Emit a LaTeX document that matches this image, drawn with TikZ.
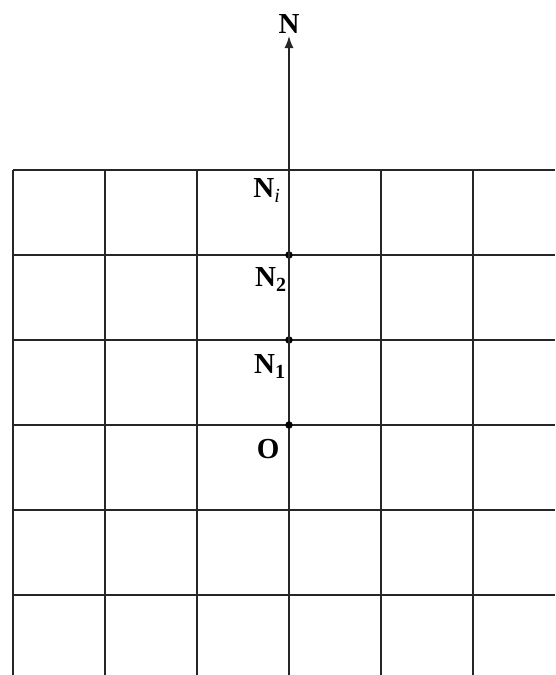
\documentclass[tikz,border=0pt]{standalone}
\usepackage{fontspec}
\setmainfont{Liberation Serif}
\usetikzlibrary{arrows.meta,positioning}

\newcommand{\sbs}[1]{\raisebox{-5pt}{\fontsize{20}{20}\selectfont #1}}

\begin{document}
\begin{tikzpicture}[x=92pt,y=85pt,
  lbl/.style={anchor=base west,inner sep=0pt,font=\fontsize{29}{30}\selectfont\bfseries},
  dot/.style={circle,fill,inner sep=0pt,minimum size=7.5pt},
  gridline/.style={line width=1.3pt,black!85}]
\useasboundingbox (-3.1413,-2.9412) rectangle (2.8913,5);

%grid
\foreach \x in {-3,...,2}
\draw[gridline] (\x,3) -- (\x,-2.9412);
\foreach \y in {-2,...,3}
\draw[gridline] (-3,\y) -- (2.8913,\y);

%axis
\node[dot] (o) at (0,0) {};
\node[dot] (n1) at (0,1) {};
\node[dot] (n2) at (0,2) {};
\coordinate (tip) at (0,4.576);
\draw[gridline,-{Latex[length=12pt,width=9pt]}] (o) -- (tip);
\node[lbl,anchor=south,yshift=2pt] (north) at (tip) {N};

%labels
\node[lbl] (lo) at (-0.35,-0.40) {O};
\node[lbl] (ln1) at (-0.38,0.60) {N\sbs{1}};
\node[lbl] (ln2) at (-0.37,1.635) {N\sbs{2}};
\node[lbl] (lni) at (-0.39,2.682) {N\sbs{\mdseries\itshape i}};

\end{tikzpicture}
\end{document}
